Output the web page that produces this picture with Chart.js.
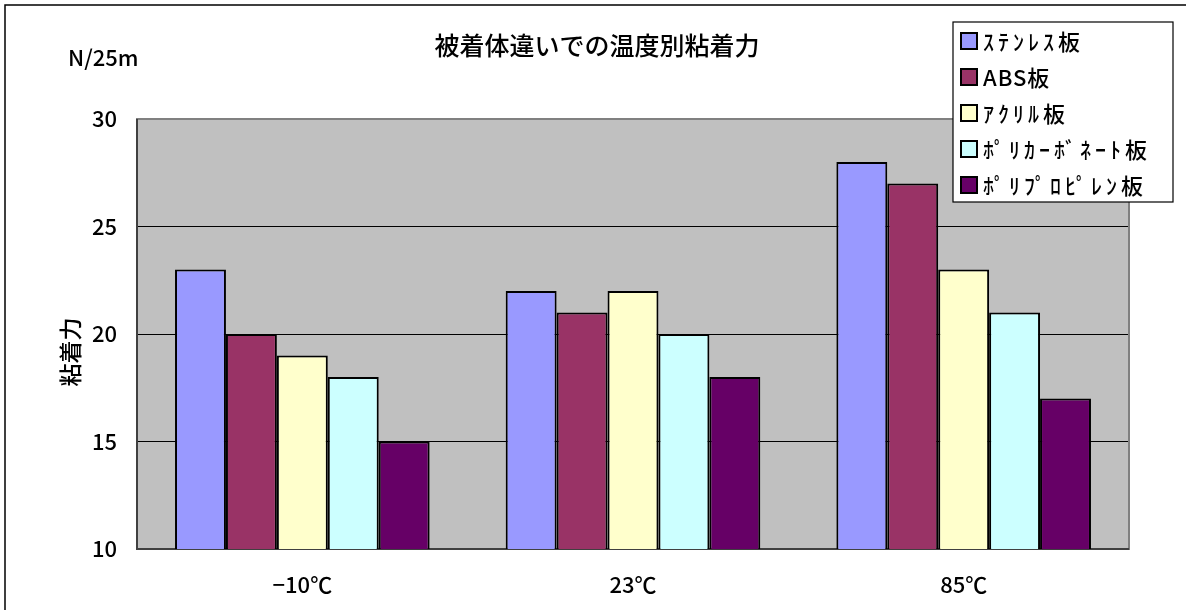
<!DOCTYPE html>
<html>
<head>
<meta charset="utf-8">
<script src="https://cdn.jsdelivr.net/npm/chart.js@4"></script>
<style>
  html, body { margin: 0; padding: 0; background: #fff; }
  canvas { display: block; }
</style>
</head>
<body>
<canvas id="chart" width="1186" height="610"></canvas>
<script>
const categories = ["−10℃", "23℃", "85℃"];
const seriesNames = ["ｽﾃﾝﾚｽ板", "ABS板", "ｱｸﾘﾙ板", "ﾎﾟﾘｶｰﾎﾞﾈｰﾄ板", "ﾎﾟﾘﾌﾟﾛﾋﾟﾚﾝ板"];
const stainless = [23, 22, 28];
const abs = [20, 21, 27];
const acrylic = [19, 22, 23];
const polycarbonate = [18, 20, 21];
const polypropylene = [15, 18, 17];
const seriesColors = ["#9999FF", "#993366", "#FFFFCC", "#CCFFFF", "#660066"];
const titleText = "被着体違いでの温度別粘着力";
const yTitle = "粘着力";
const unitText = "N/25m";

const FONT = '"Noto Sans CJK JP", "Liberation Sans", sans-serif';

const decor = {
  id: "decor",
  beforeDraw(chart) {
    const { ctx, chartArea: a } = chart;
    ctx.save();
    ctx.fillStyle = "#fff";
    ctx.fillRect(0, 0, chart.width, chart.height);
    // outer frame
    ctx.strokeStyle = "#000";
    ctx.lineWidth = 1.5;
    ctx.beginPath();
    ctx.moveTo(5, chart.height);
    ctx.lineTo(5, 5);
    ctx.lineTo(chart.width, 5);
    ctx.stroke();
    // plot background
    ctx.fillStyle = "#C0C0C0";
    ctx.fillRect(a.left, a.top, a.right - a.left, a.bottom - a.top);
    ctx.restore();
  },
  beforeDatasetsDraw(chart) {
    const { ctx, chartArea: a } = chart;
    ctx.save();
    ctx.strokeStyle = "#808080";
    ctx.lineWidth = 2;
    ctx.strokeRect(a.left, a.top, a.right - a.left, a.bottom - a.top);
    ctx.strokeStyle = "#404040";
    ctx.beginPath();
    ctx.moveTo(a.left, a.top);
    ctx.lineTo(a.left, a.bottom);
    ctx.lineTo(a.right, a.bottom);
    ctx.stroke();
    ctx.restore();
  },
  afterDraw(chart) {
    const { ctx } = chart;
    ctx.save();
    ctx.fillStyle = "#000";
    ctx.textBaseline = "middle";

    // title
    ctx.font = "500 25px " + FONT;
    ctx.textAlign = "center";
    ctx.fillText(titleText, 597, 45);

    // unit
    ctx.font = "500 22px " + FONT;
    ctx.textAlign = "left";
    ctx.fillText(unitText, 68, 58);

    // y axis title
    ctx.save();
    ctx.translate(70, 352);
    ctx.rotate(-Math.PI / 2);
    ctx.textAlign = "center";
    ctx.font = "500 23px " + FONT;
    ctx.fillText(yTitle, 0, 0);
    ctx.restore();

    // legend
    const lx = 953, ly = 22, lw = 220, lh = 180;
    ctx.fillStyle = "#fff";
    ctx.fillRect(lx, ly, lw, lh);
    ctx.strokeStyle = "#000";
    ctx.lineWidth = 1.2;
    ctx.strokeRect(lx, ly, lw, lh);
    ctx.font = "500 22px " + FONT;
    ctx.textAlign = "left";
    chart.data.datasets.forEach((ds, i) => {
      const cy = 41 + i * 36;
      ctx.fillStyle = ds.backgroundColor;
      ctx.fillRect(961, cy - 8, 16, 16);
      ctx.lineWidth = 2;
      ctx.strokeStyle = "#000";
      ctx.strokeRect(961, cy - 8, 16, 16);
      ctx.fillStyle = "#000";
      if ("letterSpacing" in ctx) {
        ctx.letterSpacing = /[\uFF61-\uFF9F]/.test(ds.label) ? "4px" : "1px";
      }
      ctx.fillText(ds.label, 983, cy + 1);
    });
    ctx.restore();
  }
};

const seriesData = [stainless, abs, acrylic, polycarbonate, polypropylene];

new Chart(document.getElementById("chart").getContext("2d"), {
  type: "bar",
  data: {
    labels: categories,
    datasets: seriesNames.map((name, i) => ({
      label: name,
      data: seriesData[i],
      backgroundColor: seriesColors[i],
      borderColor: "#000",
      borderWidth: 2,
      borderSkipped: false,
      barPercentage: 1,
      categoryPercentage: 0.77,
    })),
  },
  options: {
    responsive: false,
    animation: false,
    devicePixelRatio: 1,
    layout: { padding: { top: 119, right: 57, bottom: 16, left: 0 } },
    plugins: {
      legend: { display: false },
      title: { display: false },
      tooltip: { enabled: false },
    },
    scales: {
      x: {
        grid: { display: false, drawTicks: false },
        border: { display: false },
        ticks: { color: "#000", padding: 22, font: { family: FONT, size: 22, weight: "500" } },
        afterFit: (s) => { s.height = 45; },
      },
      y: {
        min: 10,
        max: 30,
        grid: { color: "#000", lineWidth: 1, drawTicks: false },
        border: { display: false },
        ticks: { stepSize: 5, color: "#000", padding: 20, font: { family: FONT, size: 22, weight: "500" } },
        afterFit: (s) => { s.width = 137; },
      },
    },
  },
  plugins: [decor],
});
</script>
</body>
</html>
